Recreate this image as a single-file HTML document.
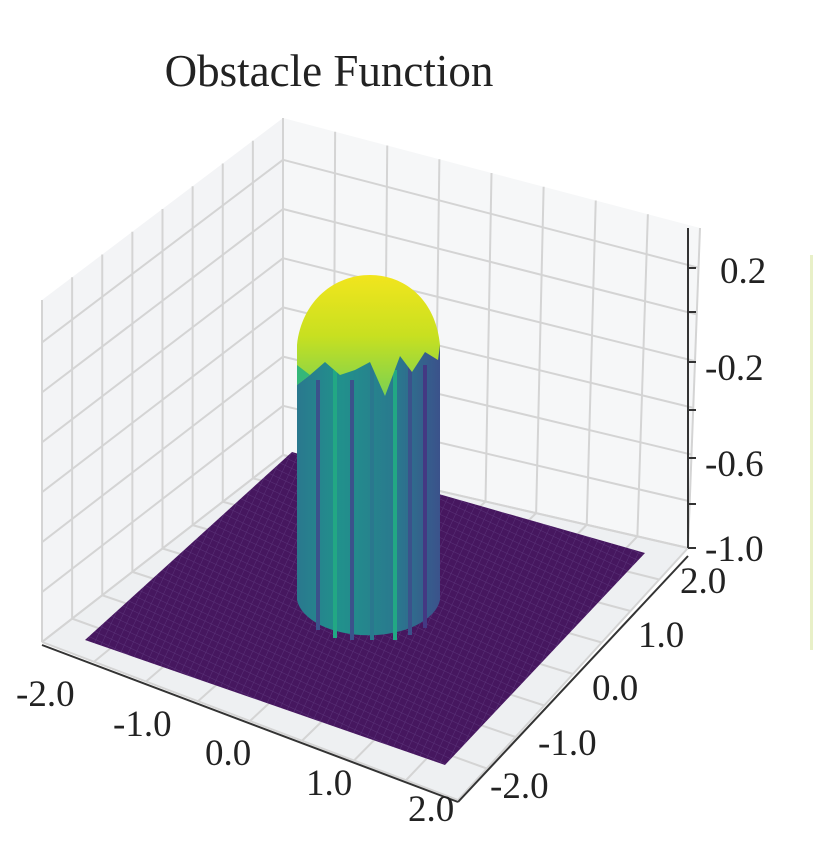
<!DOCTYPE html>
<html><head><meta charset="utf-8"><style>
html,body{margin:0;padding:0;background:#fff;}
svg{display:block;font-family:"Liberation Serif",serif;}
</style></head><body>
<svg width="813" height="863" viewBox="0 0 813 863" xmlns="http://www.w3.org/2000/svg">
<defs>
<linearGradient id="dome" x1="0" y1="0" x2="0" y2="1">
<stop offset="0" stop-color="#f2e51d"/><stop offset="0.5" stop-color="#c8e020"/><stop offset="1" stop-color="#7ad151"/>
</linearGradient>
<pattern id="mesh" width="7" height="7" patternUnits="userSpaceOnUse" patternTransform="rotate(25)">
<rect width="7" height="7" fill="#46175f"/><path d="M0 0H7M0 0V7" stroke="#5a3278" stroke-width="1"/>
</pattern>
<linearGradient id="wall" x1="0" y1="0" x2="1" y2="0">
<stop offset="0" stop-color="#2a788e"/><stop offset="0.3" stop-color="#21918c"/><stop offset="0.7" stop-color="#2a788e"/><stop offset="1" stop-color="#3b528b"/>
</linearGradient>
</defs>
<text x="329" y="86" font-size="45" text-anchor="middle" fill="#222">Obstacle Function</text>
<polygon points="283,118 42,300 42,642 283,455" fill="#f3f4f6"/>
<polygon points="283,118 700,228 688,548 283,455" fill="#f6f7f8"/>
<polygon points="42,642 283,455 688,548 458,800" fill="#eef0f2"/>
<g id="grid" stroke="#d4d4d4" stroke-width="2" fill="none"></g>
<polygon points="85,640 292,452 645,553 445,765" fill="url(#mesh)"/>
<path d="M297,345 L297,600 A72,40 0 0 0 440,600 L440,345 Z" fill="url(#wall)"/>
<g stroke-width="4">
<line x1="318" y1="380" x2="318" y2="630" stroke="#3b528b"/>
<line x1="335" y1="370" x2="335" y2="638" stroke="#22a884"/>
<line x1="352" y1="380" x2="352" y2="640" stroke="#3b528b"/>
<line x1="372" y1="360" x2="372" y2="640" stroke="#2a788e"/>
<line x1="395" y1="370" x2="395" y2="640" stroke="#22a884"/>
<line x1="410" y1="360" x2="410" y2="635" stroke="#3b528b"/>
<line x1="425" y1="365" x2="425" y2="628" stroke="#443983"/>
</g>
<path d="M297,345 C302,300 335,275 370,275 C405,275 436,300 440,345 L438,360 L425,352 L412,372 L400,356 L385,396 L370,362 L355,370 L340,375 L325,362 L310,375 L297,385 Z" fill="url(#dome)"/>
<path d="M297,345 L297,385 L310,375 L297,365 Z" fill="#35b779"/>
<g stroke="#333" stroke-width="2">
<line x1="688" y1="228" x2="688" y2="548"/>
<line x1="688" y1="268" x2="696" y2="268"/><line x1="688" y1="312" x2="696" y2="312"/>
<line x1="688" y1="362" x2="696" y2="362"/><line x1="688" y1="410" x2="696" y2="410"/>
<line x1="688" y1="458" x2="696" y2="458"/><line x1="688" y1="504" x2="696" y2="504"/>
<line x1="688" y1="548" x2="696" y2="548"/>
<line x1="42" y1="645" x2="458" y2="802"/>
<line x1="458" y1="802" x2="688" y2="556"/>
</g>
<g font-size="37" fill="#222">
<text x="720" y="283">0.2</text>
<text x="705" y="380">-0.2</text>
<text x="705" y="476">-0.6</text>
<text x="705" y="561">-1.0</text>
<text x="16" y="706">-2.0</text>
<text x="113" y="736">-1.0</text>
<text x="205" y="765">0.0</text>
<text x="306" y="795">1.0</text>
<text x="408" y="821">2.0</text>
<text x="490" y="798">-2.0</text>
<text x="538" y="755">-1.0</text>
<text x="592" y="700">0.0</text>
<text x="638" y="647">1.0</text>
<text x="680" y="593">2.0</text>
</g>
<rect x="810" y="255" width="3" height="395" fill="#e8f0c8"/>
</svg>
<script>
(function(){
var g=document.getElementById('grid'),s='';
function L(a,b,c,d){s+='<line x1="'+a+'" y1="'+b+'" x2="'+c+'" y2="'+d+'"/>';}
function lerp(p,q,t){return [p[0]+(q[0]-p[0])*t,p[1]+(q[1]-p[1])*t];}
var BT=[283,118],BB=[283,455],LT=[42,300],LB=[42,642],RT=[700,228],RB=[688,548],F=[458,800];
for(var i=0;i<=8;i++){var t=i/8;
 var a=lerp(BT,LT,t),b=lerp(BB,LB,t);L(a[0],a[1],b[0],b[1]);
 a=lerp(BT,RT,t);b=lerp(BB,RB,t);L(a[0],a[1],b[0],b[1]);
 a=lerp(LB,F,t);b=lerp(BB,RB,t);L(a[0],a[1],b[0],b[1]);
 a=lerp(RB,F,t);b=lerp(BB,LB,t);L(a[0],a[1],b[0],b[1]);}
for(var k=0;k<=6;k++){var f=1-k*0.2/1.37;
 var p=lerp(BT,BB,f),q=lerp(LT,LB,f),r=lerp(RT,RB,f);
 L(p[0],p[1],q[0],q[1]);L(p[0],p[1],r[0],r[1]);}
g.innerHTML=s;})();
</script>
</body></html>
